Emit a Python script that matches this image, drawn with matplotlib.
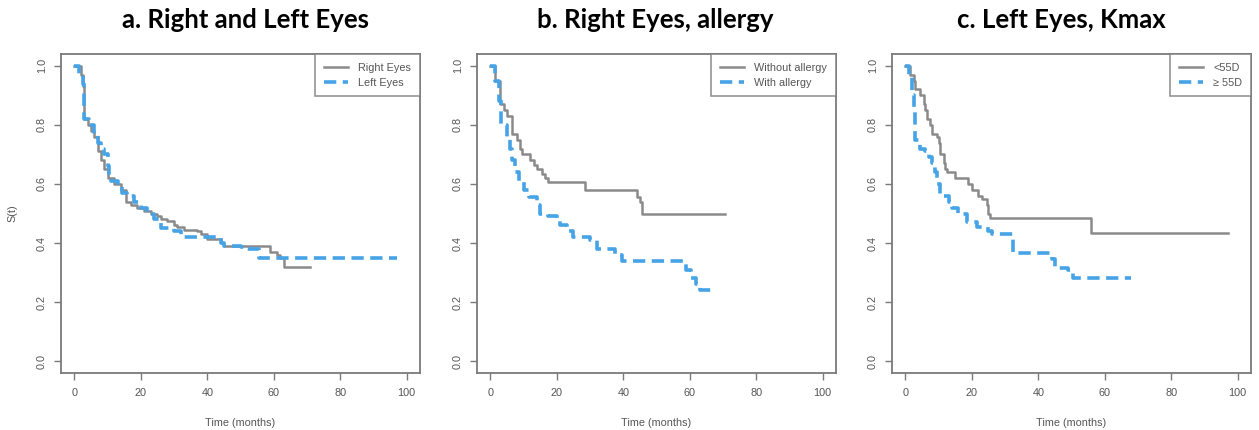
import matplotlib
matplotlib.use("Agg")
import matplotlib.pyplot as plt

plt.rcParams['font.family'] = ['Liberation Sans', 'DejaVu Sans']

# --- data (Kaplan-Meier steps) ---
# a. right vs left eyes
a_right_t = [0, 2, 2.5, 3, 4, 5, 6, 7, 8, 9, 10, 12, 14, 15.5, 17, 19, 21, 23, 25, 26, 28, 30, 31, 33, 37, 38, 40, 44, 45, 59, 61, 62, 63, 71]
a_right_s = [1.0, 0.97, 0.93, 0.82, 0.80, 0.78, 0.76, 0.71, 0.68, 0.65, 0.62, 0.60, 0.58, 0.54, 0.53, 0.52, 0.51, 0.50, 0.49, 0.48, 0.475, 0.46, 0.455, 0.445, 0.44, 0.43, 0.415, 0.40, 0.39, 0.37, 0.36, 0.35, 0.32, 0.32]
a_left_t = [0, 1.5, 2.5, 3, 4.5, 6, 7, 8, 9, 10, 10.5, 11, 13, 14.5, 16, 18, 20, 22, 24, 26, 30, 32, 44, 45, 46, 50, 52, 55.5, 97]
a_left_s = [1.0, 0.97, 0.94, 0.82, 0.80, 0.77, 0.74, 0.72, 0.70, 0.66, 0.63, 0.61, 0.59, 0.57, 0.56, 0.54, 0.52, 0.50, 0.48, 0.45, 0.44, 0.42, 0.40, 0.39, 0.39, 0.385, 0.38, 0.35, 0.35]

# b. right eyes, allergy
b_without_t = [0, 1.5, 3, 4, 5, 6.5, 8, 9, 9.5, 12, 13, 14, 15.5, 16.5, 17.5, 28.5, 44, 45, 45.5, 70.5]
b_without_s = [1.0, 0.95, 0.87, 0.85, 0.83, 0.77, 0.75, 0.72, 0.70, 0.68, 0.665, 0.65, 0.635, 0.62, 0.605, 0.58, 0.555, 0.54, 0.50, 0.50]
b_with_t = [0, 1.5, 2.5, 3.2, 5, 6, 6.5, 7.5, 8.5, 10, 11.5, 14, 15, 17.5, 20, 21, 23, 25, 30, 32, 37.5, 39.5, 59, 60.5, 62, 63, 67]
b_with_s = [1.0, 0.95, 0.88, 0.80, 0.76, 0.72, 0.68, 0.64, 0.61, 0.58, 0.555, 0.53, 0.50, 0.49, 0.48, 0.46, 0.44, 0.42, 0.41, 0.38, 0.36, 0.34, 0.31, 0.28, 0.26, 0.24, 0.24]

# c. left eyes, Kmax
c_low_t = [0, 1.5, 2.5, 3, 4.5, 5.5, 6, 6.5, 7.5, 8, 9.5, 10, 10.5, 11.5, 12, 12.5, 15, 19, 20, 22, 23, 24.5, 25, 25.5, 56, 97]
c_low_s = [1.0, 0.97, 0.95, 0.92, 0.90, 0.87, 0.85, 0.82, 0.80, 0.77, 0.76, 0.74, 0.70, 0.67, 0.65, 0.64, 0.62, 0.60, 0.58, 0.56, 0.55, 0.53, 0.50, 0.485, 0.435, 0.435]
c_high_t = [0, 1, 2, 2.5, 3, 4.5, 6, 7, 8, 9, 9.5, 10.5, 13, 14, 16, 18.5, 21.5, 25, 26, 32.5, 44, 45, 49, 50.5, 68]
c_high_s = [1.0, 0.97, 0.90, 0.85, 0.75, 0.72, 0.71, 0.69, 0.67, 0.64, 0.60, 0.56, 0.54, 0.52, 0.50, 0.47, 0.455, 0.44, 0.43, 0.365, 0.345, 0.315, 0.31, 0.28, 0.28]

titles = ["a. Right and Left Eyes", "b. Right Eyes, allergy", "c. Left Eyes, Kmax"]
legends = [("Right Eyes", "Left Eyes"), ("Without allergy", "With allergy"), ("<55D", "\u2265 55D")]
series = [
    (a_right_t, a_right_s, a_left_t, a_left_s),
    (b_without_t, b_without_s, b_with_t, b_with_s),
    (c_low_t, c_low_s, c_high_t, c_high_s),
]

GRAY = '#8a8a8a'
BLUE = '#45a3e6'
BOX = '#7a7a7a'
TXT = '#555555'

fig = plt.figure(figsize=(12.59, 4.30), dpi=100)
lefts = [61, 477, 892]
title_x = [245, 655, 1061]

for i in range(3):
    ax = fig.add_axes([lefts[i] / 1259, 1 - 373 / 430, 359 / 1259, 319 / 430])
    t1, s1, t2, s2 = series[i]
    ax.step(t1, s1, where='post', color=GRAY, lw=1.8, label=legends[i][0])
    ax.step(t2, s2, where='post', color=BLUE, lw=2.6, ls=(0, (3.4, 1.8)), label=legends[i][1])
    ax.set_xlim(-4, 104)
    ax.set_ylim(-0.04, 1.04)
    ax.set_xticks([0, 20, 40, 60, 80, 100])
    ax.set_yticks([0.0, 0.2, 0.4, 0.6, 0.8, 1.0])
    ax.set_yticklabels(['0.0', '0.2', '0.4', '0.6', '0.8', '1.0'], rotation=90, va='center')
    ax.tick_params(axis='both', colors=BOX, labelcolor=TXT, labelsize=7.8,
                   length=5, width=1.0, direction='out')
    ax.tick_params(axis='x', pad=6)
    ax.tick_params(axis='y', pad=5)
    for sp in ax.spines.values():
        sp.set_color(BOX)
        sp.set_linewidth(1.3)
    ax.set_xlabel('Time (months)', fontsize=7.8, color=TXT, labelpad=14)
    if i == 0:
        ax.set_ylabel('S(t)', fontsize=7.8, color=TXT, labelpad=14)
    leg = ax.legend(loc='upper right', fontsize=7.8, frameon=True, fancybox=False,
                    borderaxespad=0, handlelength=2.2, handletextpad=1.0,
                    labelcolor=TXT, borderpad=0.8, labelspacing=0.45)
    leg.get_frame().set_edgecolor(BOX)
    leg.get_frame().set_linewidth(1.2)
    fig.text(title_x[i] / 1259, 1 - 20 / 430, titles[i], ha='center', va='center',
             fontsize=18.5, fontweight='bold', family=['Lato', 'DejaVu Sans'])

fig.savefig('out.png', dpi=100)
